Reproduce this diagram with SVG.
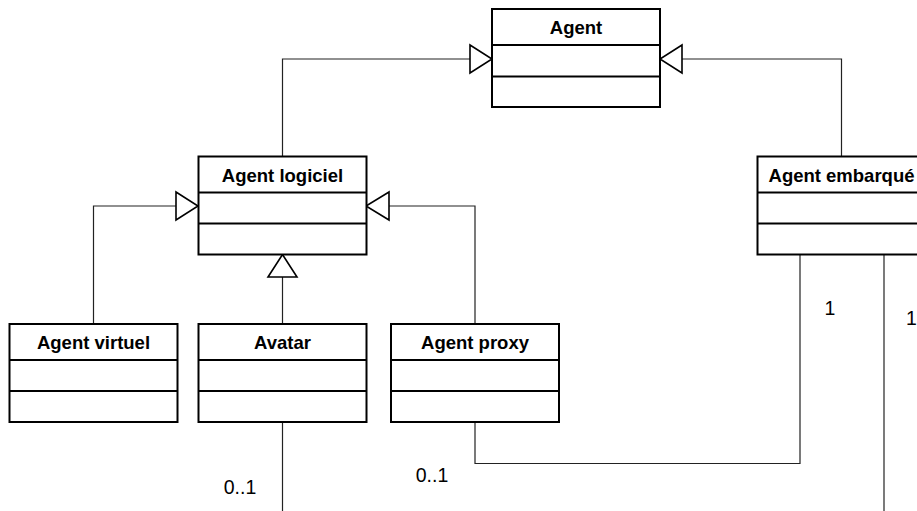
<svg xmlns="http://www.w3.org/2000/svg" width="917" height="511" viewBox="0 0 917 511">
<defs>
<style>
.box{fill:#fff;stroke:#000;stroke-width:2}
.div{stroke:#000;stroke-width:2}
.title{font-family:"Liberation Sans",Arial,sans-serif;font-weight:bold;font-size:18.5px;text-anchor:middle;fill:#000}
.conn{fill:none;stroke:#222;stroke-width:1.2}
.tri{fill:#fff;stroke:#000;stroke-width:1.6}
.mult{font-family:"Liberation Sans",Arial,sans-serif;font-size:19.5px;fill:#000;text-anchor:middle}
</style>
</defs>
<rect width="917" height="511" fill="#fff"/>
<g id="connectors">
<polyline class="conn" points="282.5,156.5 282.5,59 470,59"/>
<polyline class="conn" points="841.5,156.5 841.5,59 682,59"/>
<polyline class="conn" points="93.5,324 93.5,206 176,206"/>
<polyline class="conn" points="475,324 475,206 389,206"/>
<polyline class="conn" points="282.5,324 282.5,277"/>
<polyline class="conn" points="282.5,422 282.5,511"/>
<polyline class="conn" points="475,422 475,463.5 800,463.5 800,254.5"/>
<polyline class="conn" points="884,254.5 884,511"/>
<polygon class="tri" points="470,45 492,59 470,73"/>
<polygon class="tri" points="682,45 660,59 682,73"/>
<polygon class="tri" points="176,192 198,206 176,220"/>
<polygon class="tri" points="389,192 366,206 389,220"/>
<polygon class="tri" points="268,277 282.5,254.5 297,277"/>
<text class="mult" x="240" y="494">0..1</text>
<text class="mult" x="432" y="482">0..1</text>
<text class="mult" x="830" y="315">1</text>
<text class="mult" x="906" y="325" style="text-anchor:start">1</text>
</g>
<g id="agent">
<rect class="box" x="492" y="9" width="168" height="98"/>
<line class="div" x1="492" y1="45" x2="660" y2="45"/>
<line class="div" x1="492" y1="76.5" x2="660" y2="76.5"/>
<text class="title" x="576" y="34">Agent</text>
</g>
<g id="agent-logiciel">
<rect class="box" x="198.5" y="156.5" width="168" height="98"/>
<line class="div" x1="198.5" y1="192.5" x2="366.5" y2="192.5"/>
<line class="div" x1="198.5" y1="223.5" x2="366.5" y2="223.5"/>
<text class="title" x="282.5" y="182">Agent logiciel</text>
</g>
<g id="agent-embarque">
<rect class="box" x="757.5" y="156.5" width="168" height="98"/>
<line class="div" x1="757.5" y1="192.5" x2="925.5" y2="192.5"/>
<line class="div" x1="757.5" y1="223.5" x2="925.5" y2="223.5"/>
<text class="title" x="841.5" y="182">Agent embarqué</text>
</g>
<g id="agent-virtuel">
<rect class="box" x="9.5" y="324" width="168" height="98"/>
<line class="div" x1="9.5" y1="360" x2="177.5" y2="360"/>
<line class="div" x1="9.5" y1="391" x2="177.5" y2="391"/>
<text class="title" x="93.5" y="349">Agent virtuel</text>
</g>
<g id="avatar">
<rect class="box" x="198.5" y="324" width="168" height="98"/>
<line class="div" x1="198.5" y1="360" x2="366.5" y2="360"/>
<line class="div" x1="198.5" y1="391" x2="366.5" y2="391"/>
<text class="title" x="282.5" y="349">Avatar</text>
</g>
<g id="agent-proxy">
<rect class="box" x="391" y="324" width="168" height="98"/>
<line class="div" x1="391" y1="360" x2="559" y2="360"/>
<line class="div" x1="391" y1="391" x2="559" y2="391"/>
<text class="title" x="475" y="349">Agent proxy</text>
</g>
</svg>
